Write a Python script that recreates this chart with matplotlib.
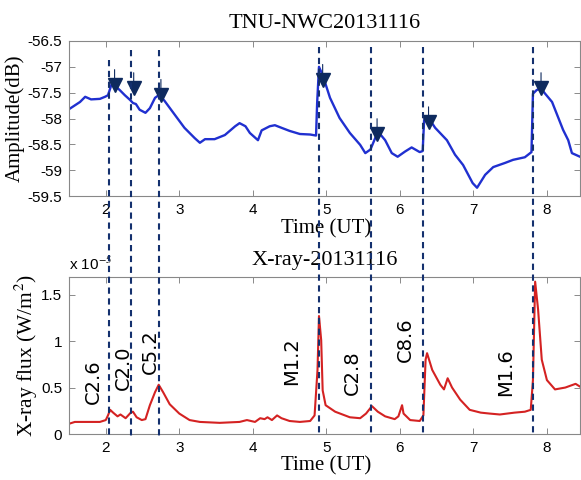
import matplotlib
matplotlib.use("Agg")
import matplotlib.pyplot as plt
import matplotlib.transforms as mtransforms
from matplotlib.lines import Line2D
from matplotlib.ticker import FuncFormatter

plt.rcParams['mathtext.fontset'] = 'stix'

# VLF amplitude, TNU receiver, NWC transmitter
amp_t = [1.50, 1.65, 1.72, 1.80, 1.92, 1.99, 2.03, 2.06, 2.09, 2.12, 2.19, 2.26,
         2.33, 2.37, 2.41, 2.46, 2.54, 2.60, 2.67, 2.73, 2.80, 2.94, 3.07, 3.21,
         3.28, 3.35, 3.48, 3.62, 3.76, 3.82, 3.90, 3.96, 4.07, 4.12, 4.23, 4.30,
         4.39, 4.50, 4.64, 4.78, 4.86, 4.875, 4.90, 4.95, 5.05, 5.18, 5.32, 5.46,
         5.53, 5.60, 5.67, 5.73, 5.80, 5.89, 5.97, 6.07, 6.16, 6.27, 6.31, 6.33,
         6.37, 6.41, 6.48, 6.64, 6.75, 6.86, 6.99, 7.05, 7.16, 7.27, 7.43, 7.54,
         7.70, 7.79, 7.81, 7.86, 7.92, 7.97, 8.07, 8.22, 8.29, 8.34, 8.45]
amp_db = [-57.82, -57.68, -57.58, -57.63, -57.62, -57.58, -57.55, -57.42, -57.29,
          -57.36, -57.45, -57.55, -57.64, -57.70, -57.72, -57.83, -57.89, -57.80,
          -57.60, -57.54, -57.66, -57.93, -58.18, -58.38, -58.47, -58.40, -58.40,
          -58.32, -58.15, -58.09, -58.15, -58.28, -58.42, -58.23, -58.15, -58.13,
          -58.18, -58.24, -58.30, -58.31, -58.33, -57.70, -57.00, -57.16, -57.60,
          -57.99, -58.28, -58.51, -58.67, -58.60, -58.36, -58.30, -58.42, -58.67,
          -58.74, -58.64, -58.56, -58.65, -58.63, -58.03, -57.99, -58.03, -58.18,
          -58.42, -58.70, -58.90, -59.25, -59.34, -59.09, -58.94, -58.86, -58.80,
          -58.75, -58.65, -57.52, -57.45, -57.41, -57.51, -57.68, -58.22, -58.42,
          -58.67, -58.74]

# amplitude response markers
mark_t = [2.12, 2.38, 2.75, 4.95, 5.69, 6.39, 7.92]
mark_db = [-57.35, -57.41, -57.54, -57.25, -58.30, -58.07, -57.41]

# GOES X-ray flux, in units of 1e-5 W/m^2
flux_t = [1.50, 1.58, 1.75, 1.92, 2.00, 2.03, 2.06, 2.10, 2.16, 2.20, 2.27, 2.34,
          2.37, 2.42, 2.49, 2.54, 2.60, 2.67, 2.72, 2.78, 2.87, 3.00, 3.14, 3.28,
          3.55, 3.82, 3.92, 4.03, 4.10, 4.16, 4.20, 4.26, 4.33, 4.39, 4.50, 4.64,
          4.78, 4.84, 4.88, 4.90, 4.93, 4.95, 4.99, 5.12, 5.32, 5.46, 5.54, 5.62,
          5.70, 5.80, 5.93, 5.98, 6.03, 6.05, 6.14, 6.27, 6.32, 6.35, 6.37, 6.44,
          6.55, 6.60, 6.65, 6.71, 6.82, 6.95, 7.10, 7.22, 7.36, 7.56, 7.70, 7.78,
          7.81, 7.84, 7.88, 7.93, 8.00, 8.11, 8.25, 8.39, 8.45]
flux_e5 = [0.11, 0.13, 0.13, 0.13, 0.15, 0.20, 0.26, 0.23, 0.19, 0.21, 0.17, 0.23,
           0.24, 0.18, 0.15, 0.16, 0.31, 0.45, 0.53, 0.45, 0.32, 0.22, 0.15, 0.13,
           0.12, 0.13, 0.15, 0.13, 0.17, 0.16, 0.18, 0.15, 0.20, 0.17, 0.14, 0.13,
           0.14, 0.20, 0.69, 1.27, 1.01, 0.47, 0.31, 0.24, 0.18, 0.17, 0.22, 0.30,
           0.24, 0.19, 0.16, 0.19, 0.31, 0.22, 0.15, 0.14, 0.20, 0.80, 0.87, 0.69,
           0.53, 0.48, 0.60, 0.50, 0.37, 0.26, 0.23, 0.22, 0.21, 0.23, 0.24, 0.26,
           0.58, 1.64, 1.34, 0.80, 0.58, 0.48, 0.50, 0.54, 0.51]

# flare onsets and classes
flare_t = [2.045, 2.35, 2.725, 4.90, 5.61, 6.317, 7.81]
flare_cls = ['C2.6', 'C2.0', 'C5.2', 'M1.2', 'C2.8', 'C8.6', 'M1.6']

W, H = 581, 480
fig = plt.figure(figsize=(W / 100, H / 100), dpi=100)
ax1 = fig.add_axes([69 / W, 1 - 196 / H, 511 / W, 155 / H])
ax2 = fig.add_axes([69 / W, 1 - 434 / H, 511 / W, 157 / H])

serif = 'Liberation Serif'
sans = 'Liberation Sans'
navy = '#14306e'

for ax in (ax1, ax2):
    ax.set_xlim(1.5, 8.45)
    ax.set_xticks([2, 3, 4, 5, 6, 7, 8])
    ax.tick_params(direction='in', top=True, right=True, length=4, width=0.6,
                   color='#777777', labelsize=11, pad=5)
    for lab in ax.get_xticklabels() + ax.get_yticklabels():
        lab.set_family(sans)
    for s in ax.spines.values():
        s.set_color('#888888')
        s.set_linewidth(0.8)

ax1.plot(amp_t, amp_db, color='#2030d0', lw=1.7)
ax1.plot(mark_t, mark_db, 'v', color='#0e2a5e', ms=10, zorder=5)
for t, a in zip(mark_t, mark_db):
    ax1.annotate('', xy=(t, a), xytext=(0, 13), textcoords='offset points',
                 arrowprops=dict(arrowstyle='-', lw=0.8, color='#0e2a5e'))
ax1.set_ylim(-59.5, -56.5)
ax1.set_yticks([-59.5, -59, -58.5, -58, -57.5, -57, -56.5])
ax1.yaxis.set_major_formatter(FuncFormatter(lambda v, p: '%g' % v))
ax1.set_title('TNU-NWC20131116', family=serif, fontsize=16, pad=9)
ax1.set_ylabel('Amplitude(dB)', family=serif, fontsize=15)
ax1.yaxis.set_label_coords(-0.086, 0.5)
ax1.set_xlabel('Time (UT)', family=serif, fontsize=15)
ax1.xaxis.set_label_coords(0.503, -0.15)

ax2.plot(flux_t, flux_e5, color='#d42222', lw=1.5)
ax2.set_ylim(0, 1.69)
ax2.set_yticks([0, 0.5, 1, 1.5])
ax2.yaxis.set_major_formatter(FuncFormatter(lambda v, p: '%g' % v))
ax2.set_title('X-ray-20131116', family=serif, fontsize=16, pad=9)
ax2.set_ylabel('X-ray flux (W/m$^2$)', family=serif, fontsize=15.5)
ax2.yaxis.set_label_coords(-0.057, 0.5)
ax2.set_xlabel('Time (UT)', family=serif, fontsize=15)
ax2.xaxis.set_label_coords(0.503, -0.14)
ax2.text(0.0, 1.025, 'x 10$^{-5}$', transform=ax2.transAxes, family=sans,
         fontsize=11, ha='left', va='bottom')

# flare class labels
label_pos = [(1.83, 0.56), (2.24, 0.71), (2.60, 0.89), (4.53, 0.78),
             (5.35, 0.66), (6.07, 1.02), (7.44, 0.67)]
for (x, y), txt in zip(label_pos, flare_cls):
    ax2.text(x, y, txt, rotation=90, family='DejaVu Sans', fontsize=14,
             ha='center', va='center')

# dashed onset lines spanning both panels
trans = mtransforms.blended_transform_factory(ax2.transData, fig.transFigure)
line_tops = [60, 50, 50, 47, 47, 47, 47]
for t, top in zip(flare_t, line_tops):
    fig.add_artist(Line2D([t, t], [1 - top / H, 1 - 437 / H], transform=trans,
                          color=navy, lw=1.5, dashes=(3, 2.2), zorder=10))

fig.savefig('out.png', dpi=100)
